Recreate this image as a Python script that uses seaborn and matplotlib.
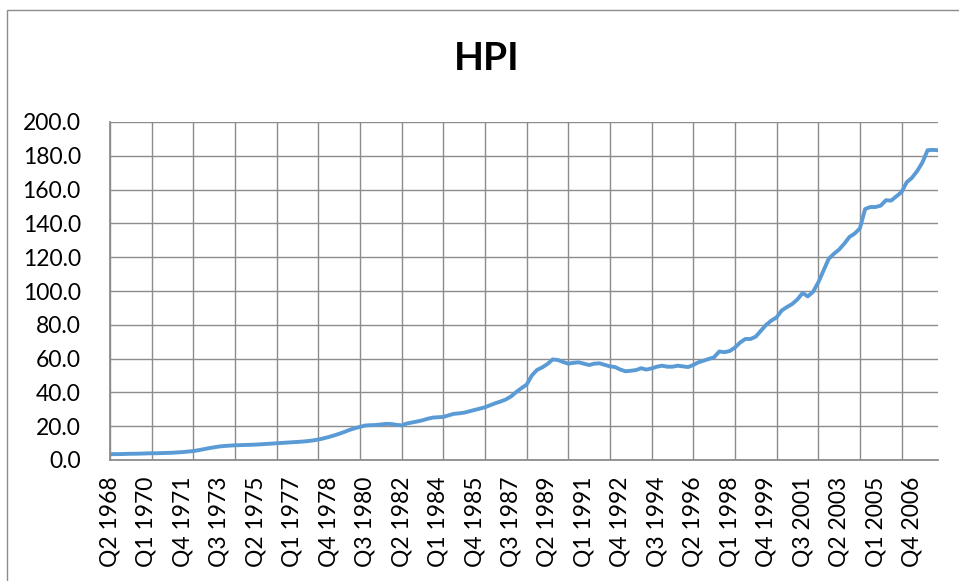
import matplotlib
matplotlib.use("Agg")
import matplotlib.pyplot as plt
import matplotlib.patches as patches
import pandas as pd
import seaborn as sns

# quarterly HPI, first quarter Q2 1968
START = "1968Q2"
HPI = [
    3.4, 3.5, 3.5, 3.6, 3.7, 3.7, 3.8, 3.9,
    4.0, 4.0, 4.1, 4.2, 4.3, 4.5, 4.7, 5.0,
    5.3, 5.8, 6.4, 7.0, 7.5, 8.0, 8.3, 8.5,
    8.7, 8.8, 8.9, 9.0, 9.1, 9.3, 9.5, 9.7,
    9.9, 10.1, 10.3, 10.5, 10.7, 10.9, 11.2, 11.6,
    12.1, 12.8, 13.6, 14.5, 15.5, 16.6, 17.8, 18.8,
    19.6, 20.4, 20.6, 20.7, 21.0, 21.4, 21.3, 20.8,
    20.5, 21.6, 22.2, 22.8, 23.5, 24.4, 25.1, 25.3,
    25.5, 26.4, 27.3, 27.6, 28.0, 28.8, 29.6, 30.4,
    31.2, 32.4, 33.6, 34.6, 35.8, 37.6, 40.2, 42.5,
    44.6, 50.0, 53.3, 54.8, 56.8, 59.5, 59.2, 58.0,
    57.0, 57.5, 57.8, 57.0, 56.2, 57.0, 57.2, 56.3,
    55.4, 55.0, 53.5, 52.5, 52.8, 53.2, 54.3, 53.5,
    54.2, 55.2, 55.8, 55.2, 55.2, 55.8, 55.4, 55.0,
    56.2, 57.8, 58.8, 59.8, 60.8, 64.2, 63.8, 64.5,
    66.5, 69.5, 71.6, 71.6, 73.0, 76.5, 80.0, 82.5,
    84.4, 88.5, 90.5, 92.3, 95.0, 98.8, 96.8, 99.5,
    105.0, 112.0, 119.0, 122.0, 124.5, 128.0, 132.0, 134.0,
    137.0, 148.5, 149.7, 149.7, 150.5, 153.7, 153.5, 156.0,
    158.5, 164.4, 167.0, 171.0, 176.0, 183.3, 183.5, 183.3,
]

TICK_LABELS = [
    "Q2 1968", "Q1 1970", "Q4 1971", "Q3 1973", "Q2 1975", "Q1 1977",
    "Q4 1978", "Q3 1980", "Q2 1982", "Q1 1984", "Q4 1985", "Q3 1987",
    "Q2 1989", "Q1 1991", "Q4 1992", "Q3 1994", "Q2 1996", "Q1 1998",
    "Q4 1999", "Q3 2001", "Q2 2003", "Q1 2005", "Q4 2006",
]
Y_TICKS = [0, 20, 40, 60, 80, 100, 120, 140, 160, 180, 200]

quarters = pd.period_range(START, periods=len(HPI), freq="Q")
df = pd.DataFrame({
    "quarter": [f"Q{p.quarter} {p.year}" for p in quarters],
    "hpi": HPI,
})
df["pos"] = range(len(df))

sns.set_style("white")
plt.rcParams["font.family"] = ["Lato", "DejaVu Sans"]
plt.rcParams["text.color"] = "black"
plt.rcParams["xtick.labelcolor"] = "black"
plt.rcParams["ytick.labelcolor"] = "black"

GRID = "#8c8c8c"
W, H = 959, 581

fig = plt.figure(figsize=(W / 100, H / 100), dpi=100)
ax = fig.add_axes([110 / W, 1 - 460 / H, (938 - 110) / W, (460 - 122) / H])

sns.lineplot(data=df, x="pos", y="hpi", ax=ax, color="#5B9BD5", linewidth=2.8)

ax.set_xlim(0, len(df) - 1)
ax.set_ylim(0, 200)

# gridlines / tick marks every 8 quarters, labels every 7 quarters
ax.xaxis.remove_overlapping_locs = False
ax.set_xticks(range(0, len(df), 8))
ax.set_xticklabels([])
lab = df[df["quarter"].isin(TICK_LABELS)]
ax.set_xticks(lab["pos"], lab["quarter"], minor=True)
ax.tick_params(axis="x", which="major", length=8, width=1, color=GRID, direction="out")
ax.tick_params(axis="x", which="minor", length=0, pad=12, labelsize=16.5, rotation=90)

ax.set_yticks(Y_TICKS)
ax.set_yticklabels([f"{v:.1f}" for v in Y_TICKS])
ax.tick_params(axis="y", length=9, width=1, color=GRID, direction="out", pad=12, labelsize=16.5)

ax.grid(True, which="major", color=GRID, linewidth=1.0)
ax.set_axisbelow(True)
for s in ["top", "right"]:
    ax.spines[s].set_visible(False)
for s in ["left", "bottom"]:
    ax.spines[s].set_color(GRID)
    ax.spines[s].set_linewidth(1.3)

ax.set_xlabel("")
ax.set_ylabel("")

fig.text(487 / W, 1 - 59 / H, "HPI", ha="center", va="center",
         fontsize=28, fontweight="bold")

# chart area border
fig.patches.append(patches.Rectangle((7 / W, -0.1), 1.2, 1.1 - 10 / H,
                                     transform=fig.transFigure, fill=False,
                                     edgecolor=GRID, linewidth=1.0))

fig.savefig("out.png", dpi=100)
